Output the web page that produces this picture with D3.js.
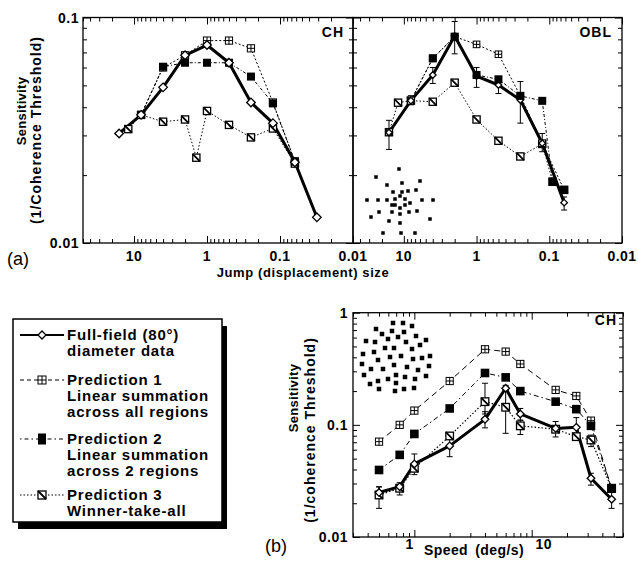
<!DOCTYPE html>
<html>
<head>
<meta charset="utf-8">
<script src="https://cdn.jsdelivr.net/npm/d3@7"></script>
<style>
  body { margin: 0; background: #fff; }
  svg text { font-family: "Liberation Sans", Arial, sans-serif; font-weight: bold; fill: #000; }
</style>
</head>
<body>
<script>
const width = 638;
const height = 564;

// ---------- (a) jump size data, CH observer ----------
const jumpCH   = [16, 8, 4, 2, 1, 0.5, 0.25, 0.125, 0.0625, 0.03125];
const fullCH   = [0.0306, 0.037, 0.049, 0.068, 0.0755, 0.063, 0.042, 0.034, 0.0228, 0.013];
const p1JumpCH = [8, 4, 2, 1, 0.5, 0.25, 0.125, 0.0625];
const p1CH     = [0.037, 0.060, 0.068, 0.079, 0.079, 0.073, 0.042, 0.023];
const p2JumpCH = [8, 4, 2, 1, 0.5, 0.25, 0.125, 0.0625];
const p2CH     = [0.037, 0.0605, 0.063, 0.063, 0.063, 0.0547, 0.0416, 0.023];
const p3JumpCH = [12, 8, 4, 2, 1.4, 1, 0.5, 0.25, 0.125, 0.0625];
const p3CH     = [0.032, 0.037, 0.0345, 0.0353, 0.0239, 0.0385, 0.0334, 0.0294, 0.0322, 0.0225];

// ---------- (a) jump size data, OBL observer ----------
const jumpOBL   = [16, 8, 4, 2, 1, 0.5, 0.25, 0.125, 0.0625];
const fullOBL   = [0.0309, 0.0428, 0.0556, 0.0828, 0.055, 0.0502, 0.0431, 0.0277, 0.0151];
const fullOBLlo = [0.026, 0.041, 0.051, 0.069, 0.049, 0.046, 0.034, 0.0254, 0.014];
const fullOBLhi = [0.035, 0.045, 0.060, 0.096, 0.060, 0.053, 0.052, 0.0306, 0.016];
const p1JumpOBL = [8, 4, 2, 1, 0.5, 0.25, 0.125, 0.0625];
const p1OBL     = [0.0428, 0.0659, 0.0822, 0.076, 0.0687, 0.045, 0.0277, 0.0172];
const p2JumpOBL = [8, 4, 2, 1, 0.5, 0.25, 0.125, 0.09, 0.0625];
const p2OBL     = [0.0428, 0.0659, 0.0822, 0.0556, 0.0532, 0.0449, 0.0427, 0.0187, 0.0172];
const p3JumpOBL = [16, 12, 8, 4, 2, 1, 0.5, 0.25, 0.125, 0.09, 0.0625];
const p3OBL     = [0.031, 0.0419, 0.0428, 0.0423, 0.0514, 0.0353, 0.0284, 0.0242, 0.0275, 0.0187, 0.0172];

// ---------- (b) speed data, CH observer ----------
const speed   = [0.5, 0.75, 1, 2, 4, 6, 8, 16, 24, 32, 48];
const fullB   = [0.0249, 0.0281, 0.0448, 0.0649, 0.112, 0.212, 0.125, 0.093, 0.095, 0.0334, 0.0217];
const fullBlo = [0.022, 0.0237, 0.036, 0.052, 0.094, 0.20, 0.11, 0.078, 0.078, 0.029, 0.018];
const fullBhi = [0.028, 0.0305, 0.055, 0.081, 0.131, 0.225, 0.14, 0.107, 0.116, 0.037, 0.025];
const p1B     = [0.0708, 0.1, 0.134, 0.246, 0.472, 0.45, 0.349, 0.205, 0.181, 0.109, 0.027];
const p2B     = [0.0396, 0.054, 0.083, 0.14, 0.29, 0.265, 0.2, 0.161, 0.138, 0.098, 0.027];
const p3B     = [0.0237, 0.0272, 0.041, 0.0796, 0.161, 0.1435, 0.098, 0.0914, 0.0785, 0.0733, 0.0272];
const p3Blo   = [0.018, null, null, null, 0.125, 0.084, 0.082, null, null, 0.064, null];
const p3Bhi   = [0.028, null, null, null, 0.235, 0.2, 0.11, null, null, 0.081, null];

// points where a prediction sits under the data marker (line only, no symbol)
const noMarkCH  = [8];
const noMarkOBL = [8];

// tick labels
const jumpTicks  = [10, 1, 0.1, 0.01];
const sensTicksA = [0.1, 0.01];
const sensTicksB = [1, 0.1, 0.01];

// stimulus dot patterns (local units)
const dotsOBL = [[-1,-33],[-24,-25],[20,-21],[-13,-17],[2,-19],[8,-11],[16,-12],[-7,-10],[2,-10],
  [-33,-2],[-22,-2],[-13,-2],[22,-2],[33,-2],[10,1],[-8,3],[-29,15],[-21,10],[-8,10],[0,12],
  [9,10],[17,9],[30,17],[-11,19],[0,21],[-17,31],[1,31],[15,31],
  [-5,-3],[0,-6],[5,-3],[5,3],[0,6],[-5,3]];
const dotsB = [[-2,-34],[8,-34],[17,-31],[-19,-28],[-3,-26],[9,-25],[-13,-23],[21,-21],[3,-20],
  [-7,-18],[-29,-16],[-20,-15],[11,-15],[31,-17],[25,-12],[-10,-9],[-1,-9],[17,-8],[-32,-3],
  [-21,-5],[-5,0],[6,-1],[-17,3],[18,2],[27,1],[35,-1],[-33,7],[-1,8],[12,10],[-24,12],
  [-12,12],[23,13],[34,9],[-31,18],[1,18],[10,20],[31,19],[-7,22],[-17,24],[-25,27],[1,26],
  [20,22],[-16,32],[0,34],[9,32],[19,31]];

// legend
const legendTypes = ["full", "cross", "filled", "slash"];
const legendText = [
  ["Full-field (80°)", "diameter data"],
  ["Prediction 1", "Linear summation", "across all regions"],
  ["Prediction 2", "Linear summation", "across 2 regions"],
  ["Prediction 3", "Winner-take-all"]
];

const toPts = (xs, ys, lo, hi) => xs.map((x, i) => ({x: x, y: ys[i], lo: lo ? lo[i] : null, hi: hi ? hi[i] : null}));

// line styles: panel (a) lines are all fine dots, panel (b) shows dashes
const stylesA = {
  full:   {w: 3,   dash: null},
  cross:  {w: 1,   dash: "2,2"},
  filled: {w: 1,   dash: "3,2,1,2"},
  slash:  {w: 1,   dash: "1.5,2"}
};
const stylesB = {
  full:   {w: 3,   dash: null},
  cross:  {w: 1,   dash: "6,4"},
  filled: {w: 1,   dash: "5,3,1.5,3"},
  slash:  {w: 1.2, dash: "1.5,2"}
};

const svg = d3.select("body").append("svg")
  .attr("width", width).attr("height", height)
  .style("display", "block");

// marker shapes
function drawMarker(g, type, s) {
  if (type === "full") {
    g.append("path").attr("d", `M0,${-s}L${s},0L0,${s}L${-s},0Z`)
      .attr("fill", "#fff").attr("stroke", "#000").attr("stroke-width", 1.3);
  } else if (type === "cross") {
    g.append("rect").attr("x", -s).attr("y", -s).attr("width", 2 * s).attr("height", 2 * s)
      .attr("fill", "#fff").attr("stroke", "#000").attr("stroke-width", 1);
    g.append("path").attr("d", `M${-s},0H${s}M0,${-s}V${s}`).attr("stroke", "#000").attr("stroke-width", 1);
  } else if (type === "filled") {
    g.append("rect").attr("x", -s).attr("y", -s).attr("width", 2 * s).attr("height", 2 * s)
      .attr("fill", "#000");
  } else {
    g.append("rect").attr("x", -s).attr("y", -s).attr("width", 2 * s).attr("height", 2 * s)
      .attr("fill", "#fff").attr("stroke", "#000").attr("stroke-width", 1.3);
    g.append("path").attr("d", `M${-s},${-s}L${s},${s}`).attr("stroke", "#000").attr("stroke-width", 1.8);
  }
}

function isMajor(v) {
  const l = Math.log10(v);
  return Math.abs(l - Math.round(l)) < 1e-6;
}

// frame with inward log ticks on all four sides
function drawFrame(x, y) {
  const g = svg.append("g");
  const [xa, xb] = x.range();
  const [yb, yt] = y.range();
  const xMinor = x.ticks().filter(v => !isMajor(v));
  const xMajor = x.ticks().filter(isMajor);
  const yMinor = y.ticks().filter(v => !isMajor(v));
  const yMajor = y.ticks().filter(isMajor);
  const axes = [
    [d3.axisBottom, `translate(0,${yb})`, x, true],
    [d3.axisTop, `translate(0,${yt})`, x, true],
    [d3.axisLeft, `translate(${xa},0)`, y, false],
    [d3.axisRight, `translate(${xb},0)`, y, false]
  ];
  axes.forEach(([fn, tr, sc, isX]) => {
    [[isX ? xMinor : yMinor, 4], [isX ? xMajor : yMajor, 7]].forEach(([vals, len]) => {
      g.append("g").attr("transform", tr)
        .call(fn(sc).tickValues(vals).tickSize(-len).tickFormat(""))
        .call(a => a.select(".domain").remove())
        .call(a => a.selectAll("line").attr("stroke-width", 1));
    });
  });
  g.append("rect")
    .attr("x", Math.min(xa, xb)).attr("y", yt)
    .attr("width", Math.abs(xb - xa)).attr("height", yb - yt)
    .attr("fill", "none").attr("stroke", "#000").attr("stroke-width", 1.3);
}

function drawSeries(x, y, series, sizes, styles, order) {
  const g = svg.append("g");
  const line = d3.line().x(d => x(d.x)).y(d => y(d.y));
  series.forEach(s => {
    g.append("path").datum(s.pts)
      .attr("fill", "none").attr("stroke", "#000")
      .attr("stroke-width", styles[s.type].w)
      .attr("stroke-dasharray", styles[s.type].dash)
      .attr("stroke-linejoin", "round")
      .attr("d", line);
  });
  // error bars
  series.forEach(s => {
    s.pts.filter(d => d.lo != null).forEach(d => {
      const cx = x(d.x);
      g.append("path")
        .attr("d", `M${cx},${y(d.lo)}V${y(d.hi)}M${cx - 3},${y(d.lo)}H${cx + 3}M${cx - 3},${y(d.hi)}H${cx + 3}`)
        .attr("stroke", "#000").attr("stroke-width", 1).attr("fill", "none");
    });
  });
  order.forEach(t => {
    series.filter(s => s.type === t).forEach(s => {
      const skip = s.noMark || [];
      g.selectAll(null).data(s.pts.filter(d => !skip.includes(d.x))).join("g")
        .attr("transform", d => `translate(${x(d.x)},${y(d.y)})`)
        .each(function() { drawMarker(d3.select(this), t, sizes[t]); });
    });
  });
}

function drawDots(dots, cx, cy, size) {
  const sx = d3.scaleLinear().domain([-40, 40]).range([cx - 40, cx + 40]);
  const sy = d3.scaleLinear().domain([-40, 40]).range([cy - 40, cy + 40]);
  svg.append("g").selectAll("rect").data(dots).join("rect")
    .attr("x", d => sx(d[0]) - size / 2).attr("y", d => sy(d[1]) - size / 2)
    .attr("width", size).attr("height", size).attr("fill", "#000");
}

function tickText(vals, fx, fy, anchor) {
  svg.append("g").selectAll("text").data(vals).join("text")
    .attr("x", fx).attr("y", fy).attr("dy", anchor === "end" ? "0.36em" : null)
    .attr("text-anchor", anchor).attr("font-size", 14).style("letter-spacing", "0.5px")
    .text(d => d);
}

function rotLabel(x, y, size, spacing, txt) {
  svg.append("g").attr("transform", `translate(${x},${y}) rotate(-90)`)
    .append("text").attr("text-anchor", "middle").attr("font-size", size)
    .style("letter-spacing", spacing + "px").text(txt);
}

// ---------- panel (a) ----------
const yA = d3.scaleLog().domain([0.01, 0.1]).range([243, 17.5]);
const xL = d3.scaleLog().domain([50, 0.01]).range([83, 353]);
const xR = d3.scaleLog().domain([50, 0.01]).range([353, 622]);

drawFrame(xL, yA);
drawFrame(xR, yA);
drawDots(dotsOBL, 400, 202, 3.5);

drawSeries(xL, yA, [
  {type: "slash",  pts: toPts(p3JumpCH, p3CH)},
  {type: "filled", pts: toPts(p2JumpCH, p2CH), noMark: noMarkCH},
  {type: "cross",  pts: toPts(p1JumpCH, p1CH), noMark: noMarkCH},
  {type: "full",   pts: toPts(jumpCH, fullCH)}
], {full: 4.3, cross: 3.6, filled: 4, slash: 3.6}, stylesA, ["slash", "cross", "filled", "full"]);

drawSeries(xR, yA, [
  {type: "slash",  pts: toPts(p3JumpOBL, p3OBL)},
  {type: "filled", pts: toPts(p2JumpOBL, p2OBL), noMark: noMarkOBL},
  {type: "cross",  pts: toPts(p1JumpOBL, p1OBL), noMark: noMarkOBL},
  {type: "full",   pts: toPts(jumpOBL, fullOBL, fullOBLlo, fullOBLhi)}
], {full: 3.3, cross: 3.3, filled: 4, slash: 3.6}, stylesA, ["slash", "cross", "full", "filled"]);

tickText(sensTicksA, 79, d => yA(d), "end");
tickText(jumpTicks, d => xL(d), 261, "middle");
tickText(jumpTicks.slice(0, 3).concat([0.01]), d => xR(d), 261, "middle");

svg.append("text").attr("x", 344).attr("y", 37).attr("text-anchor", "end")
  .attr("font-size", 14).style("letter-spacing", "1px").text("CH");
svg.append("text").attr("x", 612).attr("y", 37).attr("text-anchor", "end")
  .attr("font-size", 14).style("letter-spacing", "1px").text("OBL");

svg.append("text").attr("x", 303).attr("y", 277).attr("text-anchor", "middle")
  .attr("font-size", 13).style("letter-spacing", "0.6px").text("Jump (displacement) size");

rotLabel(26, 111, 13, 0.3, "Sensitivity");
rotLabel(41, 130, 14, 1, "(1/Coherence Threshold)");

svg.append("text").attr("x", 7).attr("y", 265).attr("font-size", 18)
  .style("font-weight", "normal").text("(a)");

// ---------- panel (b) ----------
const yB = d3.scaleLog().domain([0.01, 1]).range([537, 312.7]);
const xB = d3.scaleLog().domain([0.3, 60]).range([353, 623]);

drawFrame(xB, yB);
drawDots(dotsB, 395, 357, 4.5);

drawSeries(xB, yB, [
  {type: "slash",  pts: toPts(speed, p3B, p3Blo, p3Bhi)},
  {type: "filled", pts: toPts(speed, p2B)},
  {type: "cross",  pts: toPts(speed, p1B)},
  {type: "full",   pts: toPts(speed, fullB, fullBlo, fullBhi)}
], {full: 3.8, cross: 3.6, filled: 4.3, slash: 3.8}, stylesB, ["slash", "cross", "full", "filled"]);

tickText(sensTicksB, 348, d => yB(d), "end");
svg.append("text").attr("x", xB(1) - 5).attr("y", 549).attr("text-anchor", "middle")
  .attr("font-size", 14).text("1");
svg.append("text").attr("x", xB(10) + 12).attr("y", 549).attr("text-anchor", "middle")
  .attr("font-size", 14).style("letter-spacing", "0.5px").text("10");
svg.append("text").attr("x", 474).attr("y", 555).attr("text-anchor", "middle")
  .attr("font-size", 14).style("letter-spacing", "0.4px").style("word-spacing", "3px").text("Speed (deg/s)");
svg.append("text").attr("x", 617).attr("y", 325).attr("text-anchor", "end")
  .attr("font-size", 14).style("letter-spacing", "1px").text("CH");

rotLabel(298, 398, 13, 0.3, "Sensitivity");
rotLabel(315, 430, 14, 1, "(1/coherence Threshold)");

svg.append("text").attr("x", 265).attr("y", 552).attr("font-size", 18)
  .style("font-weight", "normal").text("(b)");

// ---------- legend ----------
const legend = svg.append("g");
legend.append("rect").attr("x", 18).attr("y", 326).attr("width", 209).attr("height", 203).attr("fill", "#000");
legend.append("rect").attr("x", 13).attr("y", 319).attr("width", 209).attr("height", 203)
  .attr("fill", "#fff").attr("stroke", "#000").attr("stroke-width", 1.5);

const legendY = [335, 380, 439, 495];
const legendDash = {full: null, cross: "4,3", filled: "1.5,3,4,3", slash: "1.5,2"};
legendTypes.forEach((t, i) => {
  const cy = legendY[i];
  legend.append("path").attr("d", `M20,${cy}H64`)
    .attr("stroke", "#000").attr("stroke-width", t === "full" ? 2.2 : 1)
    .attr("stroke-dasharray", legendDash[t]);
  const m = legend.append("g").attr("transform", `translate(42,${cy})`);
  if (t === "filled") {
    m.append("rect").attr("x", -4).attr("y", -5.5).attr("width", 8).attr("height", 11).attr("fill", "#000");
  } else {
    drawMarker(m, t, 4);
  }
  legend.append("g").selectAll("text").data(legendText[i]).join("text")
    .attr("x", 67).attr("y", (d, j) => cy + 5 + j * 16)
    .attr("font-size", 15).style("letter-spacing", "0.8px")
    .text(d => d);
});
</script>
</body>
</html>
